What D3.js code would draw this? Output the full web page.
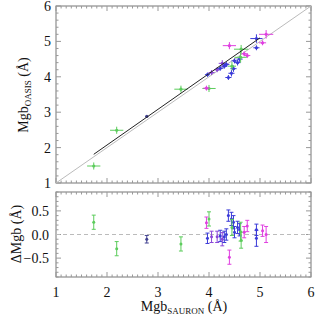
<!DOCTYPE html>
<html>
<head>
<meta charset="utf-8">
<script src="https://cdn.jsdelivr.net/npm/d3@7"></script>
<style>
  body { margin: 0; background: #fff; }
  svg text { font-family: "Liberation Serif", "DejaVu Serif", serif; fill: #111; }
</style>
</head>
<body>
<svg id="chart" width="316" height="315"></svg>
<script>
// values
const sauron = [1.74, 2.19, 2.78, 3.45, 4.00, 4.40, 4.63, 4.93, 5.12, 5.05, 4.93, 4.75,
                3.97, 4.05, 4.16, 4.22, 4.26, 4.34, 4.38, 4.44, 4.48, 4.50, 4.56, 4.60,
                4.45, 3.95, 4.69, 4.62, 4.30]
const oasis  = [1.48, 2.49, 2.88, 3.65, 3.67, 4.88, 4.78, 5.08, 5.20, 4.96, 4.82, 4.60,
                4.06, 4.12, 4.20, 4.24, 4.38, 4.35, 3.98, 4.10, 4.23, 4.45, 4.40, 4.50,
                4.30, 3.68, 4.65, 4.55, 4.30]
const delta  = [0.26, -0.30, -0.10, -0.20, 0.33, -0.48, -0.12, -0.08, 0.00, 0.08, 0.10, 0.18,
                -0.08, -0.05, -0.05, -0.03, -0.10, 0.00, 0.40, 0.33, 0.26, 0.05, 0.15, 0.10,
                0.15, 0.25, 0.05, 0.06, -0.05]
const errX   = [0.13, 0.13, 0.03, 0.13, 0.13, 0.13, 0.14, 0.12, 0.14, 0.07, 0.06, 0.06,
                0.05, 0.06, 0.06, 0.06, 0.07, 0.06, 0.06, 0.06, 0.06, 0.06, 0.06, 0.06,
                0.08, 0.06, 0.06, 0.12, 0.06]
const errY   = [0.10, 0.10, 0.03, 0.10, 0.10, 0.10, 0.12, 0.12, 0.12, 0.07, 0.07, 0.07,
                0.06, 0.07, 0.07, 0.07, 0.09, 0.07, 0.07, 0.09, 0.09, 0.07, 0.08, 0.08,
                0.12, 0.07, 0.07, 0.15, 0.07]
const group  = ['g','g','n','g','g','m','g','b','m','m','b','m',
                'b','p','p','b','p','b','b','b','b','b','b','b',
                'g','m','m','g','b']
const fitX = [1.74, 5.0]
const fitY = [1.81, 5.1]
const xTicks = [1, 2, 3, 4, 5, 6]
const yTicksTop = [1, 2, 3, 4, 5, 6]
const yTicksBot = [-0.5, 0.0, 0.5]

const colors = {g: '#5ccc5c', b: '#3a3ad8', m: '#e040e0', p: '#8a46d8', n: '#404090'}

const svg = d3.select('#chart')
const left = 56, right = 311
const x = d3.scaleLinear().domain([1, 6]).range([left, right])
const yTop = d3.scaleLinear().domain([1, 6]).range([183, 6])
const yBot = d3.scaleLinear().domain([-0.9, 0.9]).range([277, 192])

function frame(y, minorX, minorY) {
  const g = svg.append('g')
  const y0 = y.range()[0], y1 = y.range()[1]
  g.append('rect').attr('x', left).attr('y', y1).attr('width', right - left).attr('height', y0 - y1)
    .attr('fill', 'none').attr('stroke', '#777').attr('stroke-width', 1)
  minorX.forEach(v => {
    const major = Math.abs(v - Math.round(v)) < 1e-6
    const len = major ? 5 : 2.5
    g.append('line').attr('x1', x(v)).attr('x2', x(v)).attr('y1', y0).attr('y2', y0 - len).attr('stroke', '#999')
    g.append('line').attr('x1', x(v)).attr('x2', x(v)).attr('y1', y1).attr('y2', y1 + len).attr('stroke', '#999')
  })
  minorY.forEach(d => {
    const len = d[1] ? 5 : 2.5
    g.append('line').attr('x1', left).attr('x2', left + len).attr('y1', y(d[0])).attr('y2', y(d[0])).attr('stroke', '#999')
    g.append('line').attr('x1', right).attr('x2', right - len).attr('y1', y(d[0])).attr('y2', y(d[0])).attr('stroke', '#999')
  })
}

const minorX = d3.range(10, 61).map(i => i / 10)
frame(yTop, minorX, d3.range(5, 31).map(i => [i / 5, i % 5 === 0]))
frame(yBot, minorX, d3.range(-9, 10).map(i => [i / 10, i % 5 === 0]))

// tick labels
svg.selectAll('.yl1').data(yTicksTop).join('text')
  .attr('x', 51).attr('y', d => yTop(d) + 5).attr('text-anchor', 'end').attr('font-size', 14)
  .text(d => d)
svg.selectAll('.yl2').data(yTicksBot).join('text')
  .attr('x', 49).attr('y', d => yBot(d) + 5).attr('text-anchor', 'end').attr('font-size', 14)
  .text(d => d3.format('.1f')(d).replace('-', '\u2212'))
svg.selectAll('.xl').data(xTicks).join('text')
  .attr('x', d => x(d)).attr('y', 297).attr('text-anchor', 'middle').attr('font-size', 14)
  .text(d => d)

// axis titles
const t1 = svg.append('text').attr('transform', 'translate(28,95) rotate(-90)')
  .attr('text-anchor', 'middle').attr('font-size', 14)
t1.append('tspan').text('Mgb')
t1.append('tspan').attr('font-size', 9).attr('dy', 3).text('OASIS')
t1.append('tspan').attr('dy', -3).text(' (Å)')
svg.append('text').attr('transform', 'translate(21,234) rotate(-90)')
  .attr('text-anchor', 'middle').attr('font-size', 14).text('ΔMgb (Å)')
const t2 = svg.append('text').attr('x', 184).attr('y', 311).attr('text-anchor', 'middle').attr('font-size', 14)
t2.append('tspan').text('Mgb')
t2.append('tspan').attr('font-size', 9).attr('dy', 3).text('SAURON')
t2.append('tspan').attr('dy', -3).text(' (Å)')

// reference lines
svg.append('line').attr('x1', x(1)).attr('y1', yTop(1)).attr('x2', x(6)).attr('y2', yTop(6))
  .attr('stroke', '#bbb').attr('stroke-width', 1)
svg.append('line').attr('x1', x(1)).attr('y1', yBot(0)).attr('x2', x(6)).attr('y2', yBot(0))
  .attr('stroke', '#bbb').attr('stroke-dasharray', '4,3')

const pts = sauron.map((v, i) => ({x: v, y: oasis[i], d: delta[i], ex: errX[i], ey: errY[i], c: colors[group[i]]}))

// top panel crosses
const gt = svg.append('g')
pts.forEach(p => {
  gt.append('line').attr('x1', x(p.x - p.ex)).attr('x2', x(p.x + p.ex)).attr('y1', yTop(p.y)).attr('y2', yTop(p.y)).attr('stroke', p.c)
  gt.append('line').attr('x1', x(p.x)).attr('x2', x(p.x)).attr('y1', yTop(p.y - p.ey)).attr('y2', yTop(p.y + p.ey)).attr('stroke', p.c)
  gt.append('circle').attr('cx', x(p.x)).attr('cy', yTop(p.y)).attr('r', 1.6).attr('fill', p.c)
})

// fit line
svg.append('line').attr('x1', x(fitX[0])).attr('y1', yTop(fitY[0])).attr('x2', x(fitX[1])).attr('y2', yTop(fitY[1]))
  .attr('stroke', '#222').attr('stroke-width', 1)

// bottom panel residuals
const gb = svg.append('g')
pts.forEach(p => {
  const e = p.ey + 0.05
  gb.append('line').attr('x1', x(p.x)).attr('x2', x(p.x)).attr('y1', yBot(p.d - e)).attr('y2', yBot(p.d + e)).attr('stroke', p.c)
  ;[p.d - e, p.d + e].forEach(v => gb.append('line').attr('x1', x(p.x) - 2).attr('x2', x(p.x) + 2)
    .attr('y1', yBot(v)).attr('y2', yBot(v)).attr('stroke', p.c))
  gb.append('circle').attr('cx', x(p.x)).attr('cy', yBot(p.d)).attr('r', 1.5).attr('fill', p.c)
})
</script>
</body>
</html>
